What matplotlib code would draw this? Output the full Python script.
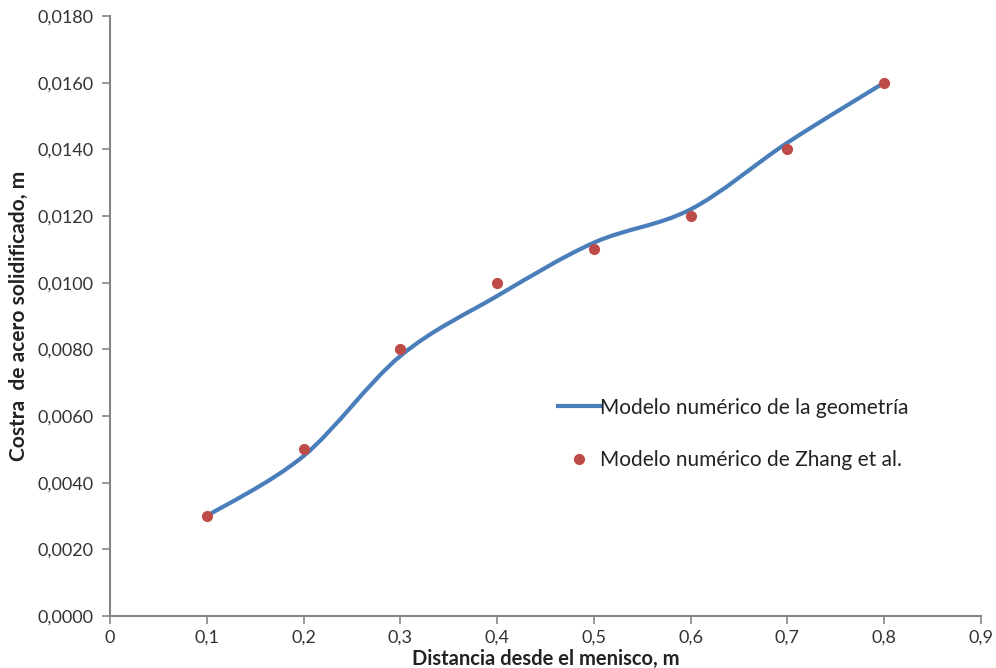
import matplotlib
matplotlib.use('Agg')
import numpy as np
import matplotlib.pyplot as plt
from matplotlib.path import Path
from matplotlib.patches import PathPatch
from matplotlib.lines import Line2D
from matplotlib.ticker import FuncFormatter

# data
distancia = [0.1, 0.2, 0.3, 0.4, 0.5, 0.6, 0.7, 0.8]
costra_geometria = [0.0030, 0.0048, 0.0078, 0.0096, 0.0112, 0.0122, 0.0142, 0.0160]
costra_zhang = [0.0030, 0.0050, 0.0080, 0.0100, 0.0110, 0.0120, 0.0140, 0.0160]

plt.rcParams['font.family'] = ['Lato', 'DejaVu Sans']

fig = plt.figure(figsize=(9.96, 6.68), dpi=100)
ax = fig.add_axes([0.1104, 0.0778, 0.8745, 0.8982])

# smoothed line like excel (bezier segments through the points)
pts = np.column_stack([distancia, costra_geometria])
verts = [pts[0]]
codes = [Path.MOVETO]
n = len(pts)
for i in range(n - 1):
    p0 = pts[max(i - 1, 0)]
    p1 = pts[i]
    p2 = pts[i + 1]
    p3 = pts[min(i + 2, n - 1)]
    c1 = p1 + (p2 - p0) / 6.0
    c2 = p2 - (p3 - p1) / 6.0
    verts += [c1, c2, p2]
    codes += [Path.CURVE4] * 3
ax.add_patch(PathPatch(Path(verts, codes), facecolor='none', edgecolor='#4A7EBB',
                       lw=3, capstyle='round', zorder=2))

ax.plot(distancia, costra_zhang, 'o', color='#BE4B48', ms=7, zorder=3)

ax.set_xlim(0, 0.9)
ax.set_ylim(0, 0.018)
ax.set_xticks(np.arange(0, 0.91, 0.1))
ax.set_yticks(np.arange(0, 0.0181, 0.002))
ax.xaxis.set_major_formatter(FuncFormatter(lambda v, p: ('%g' % round(v, 1)).replace('.', ',')))
ax.yaxis.set_major_formatter(FuncFormatter(lambda v, p: ('%.4f' % v).replace('.', ',')))

for s in ['top', 'right']:
    ax.spines[s].set_visible(False)
for s in ['left', 'bottom']:
    ax.spines[s].set_color('#868686')
    ax.spines[s].set_linewidth(1.5)
ax.tick_params(direction='out', length=6, width=1.2, color='#868686',
               labelsize=13, labelcolor='#333333', pad=6)
ax.tick_params(axis='x', pad=4)

ax.set_xlabel('Distancia desde el menisco, m', fontsize=14.5, fontweight='bold',
              color='#222222', labelpad=0)
ax.xaxis.set_label_coords(0.5, -0.055)
ax.set_ylabel('Costra  de acero solidificado, m', fontsize=15, fontweight='bold',
              color='#222222')
ax.yaxis.set_label_coords(-0.093, 0.5)

handles = [Line2D([], [], color='#4A7EBB', lw=3),
           Line2D([], [], ls='none', marker='o', color='#BE4B48', ms=7)]
ax.legend(handles, ['Modelo numérico de la geometría', 'Modelo numérico de Zhang et al.'],
          loc='upper left', bbox_to_anchor=(0.493, 0.395), frameon=False,
          fontsize=15, handlelength=2.0, handletextpad=0.0, labelspacing=1.55,
          labelcolor='#222222')

fig.savefig('out.png', dpi=100)
